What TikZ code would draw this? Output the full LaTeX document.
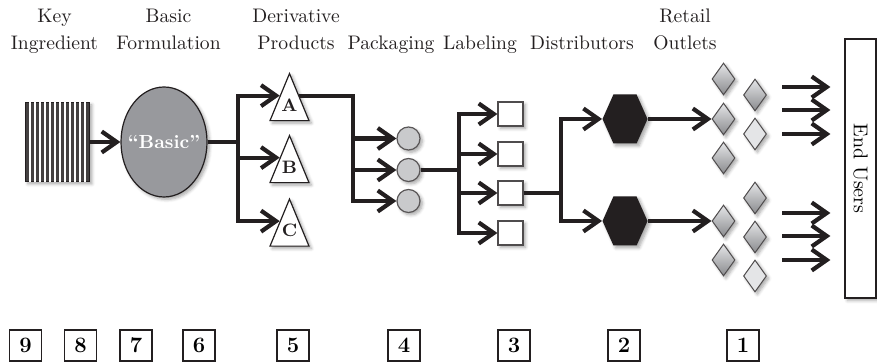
\documentclass[tikz,border=0pt]{standalone}
\usetikzlibrary{
    arrows.meta,
    calc,
    positioning,
    shapes.geometric,
    shapes.symbols,
    shadows.blur
}
\definecolor{ink}{RGB}{35,31,32}
\definecolor{basicgray}{RGB}{152,153,157}
\definecolor{packgray}{RGB}{201,202,204}
\definecolor{outletlight}{RGB}{228,229,231}
\definecolor{outletdark}{RGB}{138,139,142}
\tikzset{
    pop/.style={
        blur shadow={shadow xshift=1.2pt, shadow yshift=-1.2pt,
            shadow blur radius=1.6pt, shadow blur steps=5, shadow opacity=35}
    },
    flow/.style={
        draw=ink,
        line width=2.1pt
    },
    flowarrow/.style={
        flow,
        -{Straight Barb[length=7.5pt, width=10.5pt]}
    },
    heading/.style={
        font=\fontsize{9.8}{13.5}\selectfont,
        text=ink,
        align=center,
        anchor=base
    },
    keybox/.style={
        rectangle,
        draw=ink,
        line width=0.9pt,
        fill=ink!85,
        minimum width=32pt,
        minimum height=39.5pt,
        inner sep=0pt,
        pop
    },
    stripe/.style={
        draw=white,
        line width=0.9pt
    },
    basicnode/.style={
        ellipse,
        draw=ink,
        line width=0.6pt,
        fill=basicgray,
        minimum width=43pt,
        minimum height=55pt,
        inner sep=0pt,
        text=white,
        font=\bfseries\fontsize{9.5}{11}\selectfont,
        pop
    },
    product/.style={
        isosceles triangle,
        isosceles triangle apex angle=45,
        shape border rotate=90,
        anchor=apex,
        draw=ink,
        line width=0.6pt,
        fill=white,
        minimum width=19.5pt,
        minimum height=23.5pt,
        inner sep=0pt,
        pop
    },
    productname/.style={
        inner sep=0pt,
        font=\bfseries\fontsize{9}{10}\selectfont,
        text=ink
    },
    package/.style={
        circle,
        draw=ink!75,
        line width=0.6pt,
        fill=packgray,
        minimum size=11.5pt,
        inner sep=0pt,
        pop
    },
    labelbox/.style={
        rectangle,
        draw=ink!80,
        line width=0.6pt,
        fill=white,
        minimum width=12.5pt,
        minimum height=12pt,
        inner sep=0pt,
        pop
    },
    distributor/.style={
        signal,
        signal to=east and west,
        signal from=nowhere,
        signal pointer angle=132,
        fill=ink,
        minimum width=22.5pt,
        minimum height=24.5pt,
        inner sep=0pt,
        pop
    },
    outlet/.style={
        diamond,
        draw=ink!80,
        line width=0.5pt,
        top color=outletlight,
        bottom color=outletdark,
        minimum width=11.5pt,
        minimum height=16pt,
        inner sep=0pt,
        pop
    },
    outletpale/.style={
        outlet,
        top color=outletlight,
        bottom color=outletlight
    },
    usersbox/.style={
        rectangle,
        draw=ink,
        line width=0.6pt,
        fill=white,
        minimum width=15.5pt,
        minimum height=129.5pt,
        inner sep=0pt,
        font=\fontsize{10}{12}\selectfont,
        pop
    },
    stepnum/.style={
        rectangle,
        draw=ink,
        line width=0.8pt,
        fill=white,
        minimum width=16pt,
        minimum height=15.5pt,
        inner sep=0pt,
        font=\bfseries\fontsize{11}{12}\selectfont
    }
}

\begin{document}
\begin{tikzpicture}[x=0.5pt, y=-0.5pt]
\useasboundingbox (0,0) rectangle (877,362);

% Headings
\node[heading] (hkey)  at (54.5,50) {Key\\Ingredient};
\node[heading] (hform) at (168.5,50) {Basic\\Formulation};
\node[heading] (hprod) at (296,50) {Derivative\\Products};
\node[heading] (hpack) at (391,50) {Packaging};
\node[heading] (hlab)  at (480,50) {Labeling};
\node[heading] (hdist) at (582,50) {Distributors};
\node[heading] (hret)  at (685,50) {Retail\\Outlets};

% Key ingredient and basic formulation
\node[keybox] (key) at (57.5,142) {};
\foreach \k in {1,...,12} {
    \draw[stripe] ($(key.south west)!\k/13!(key.south east)$) -- ($(key.north west)!\k/13!(key.north east)$);
}
\node[basicnode] (basic) at (164,142) {\makebox[0pt]{``Basic''}};

% Derivative products
\foreach \p/\y in {A/72,B/134,C/197.5} {
    \node[product] (prod\p) at (289.5,\y) {};
    \node[productname] (name\p) at ($(prod\p.apex)!0.67!(prod\p.lower side)$) {\p};
}

% Packaging
\node[package] (packA) at (408.5,138.5) {};
\node[package] (packB) at (408.5,170) {};
\node[package] (packC) at (408.5,201) {};

% Labeling
\foreach \i/\y in {A/114,B/154,C/193,D/233} {
    \node[labelbox] (lab\i) at (510.5,\y) {};
}

% Distributors
\node[distributor] (distA) at (625,119) {};
\node[distributor] (distB) at (625,221) {};

% Retail outlets
\foreach \i/\x/\y/\look in {1/723.5/79/outlet, 2/723.5/119/outlet, 3/723.5/158/outlet,
                            4/723.5/221/outlet, 5/723.5/260/outlet,
                            6/755/95/outlet, 7/755/134/outletpale, 8/755/198/outlet,
                            9/755/237/outlet, 10/755/276/outletpale} {
    \node[\look] (out\i) at (\x,\y) {};
}

% End users
\node[usersbox] (users) at (860.5,168.5) {\rotatebox{-90}{End Users}};

% Flow connectors
\coordinate (fork1) at (238,142);
\coordinate (fork2) at (353,201);
\coordinate (fork3) at (459,170);
\coordinate (fork4) at (561,193);

\draw[flowarrow] (key) -- (basic);
\foreach \p in {A,B,C} {
    \draw[flowarrow] (basic) -- (fork1) |- ($(prod\p.apex)!0.48!(prod\p.left corner)$);
}
\draw[flowarrow] ($(prodA.apex)!0.48!(prodA.right corner)$) -| (fork2) -- (packC);
\draw[flowarrow] (fork2 |- packA) -- (packA);
\draw[flowarrow] (fork2 |- packB) -- (packB);
\foreach \l in {A,B,C,D} {
    \draw[flowarrow] (packB) -- (fork3) |- (lab\l);
}
\draw[flowarrow] (labC) -- (fork4) |- (distA);
\draw[flowarrow] (labC) -- (fork4) |- (distB);
\draw[flowarrow] (distA) -- (out2);
\draw[flowarrow] (distB) -- (out4);

% Arrows to end users
\foreach \j/\y in {1/87,2/110,3/134,4/213,5/236,6/260} {
    \coordinate (eu\j) at (782,\y);
    \draw[flowarrow, shorten >=7pt] (eu\j) -- (eu\j -| users.west);
}

% Step numbers
\foreach \n/\x in {9/25.5,8/80.5,7/136,6/199,5/293,4/404,3/514,2/624,1/743} {
    \node[stepnum] (step\n) at (\x,345.5) {\n};
}
\end{tikzpicture}
\end{document}
